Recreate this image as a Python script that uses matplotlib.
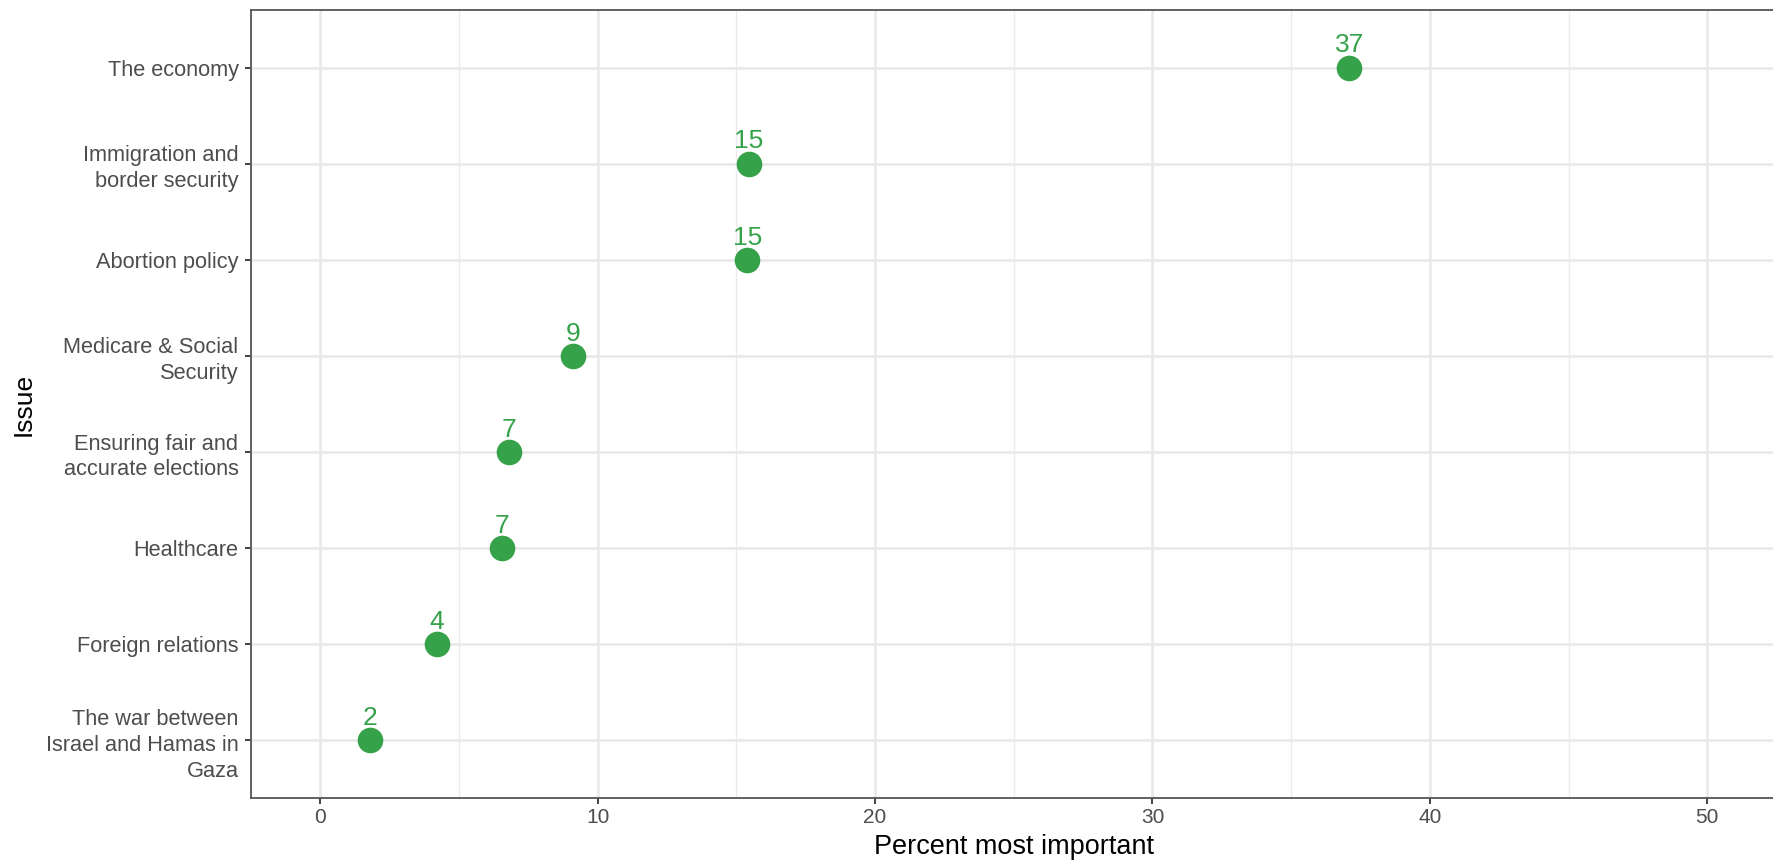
import numpy as np
import matplotlib.pyplot as plt

# data (percent naming each issue most important)
issues = ['The war between\nIsrael and Hamas in\nGaza', 'Foreign relations', 'Healthcare',
          'Ensuring fair and\naccurate elections', 'Medicare & Social\nSecurity',
          'Abortion policy', 'Immigration and\nborder security', 'The economy']
percent = [1.8, 4.2, 6.55, 6.8, 9.1, 15.4, 15.45, 37.1]
labels = ['2', '4', '7', '7', '9', '15', '15', '37']
xticks = [0, 10, 20, 30, 40, 50]

plt.rcParams['font.family'] = ['Liberation Sans', 'DejaVu Sans']
green = '#35a24a'

fig = plt.figure(figsize=(17.73, 8.65), dpi=100)
ax = fig.add_axes([251/1773, 67/865, 1 - 251/1773 + 0.002, 788/865])

ypos = np.arange(1, len(issues) + 1)
ax.scatter(percent, ypos, s=340, color=green, zorder=3, linewidths=0)
for x, y, t in zip(percent, ypos, labels):
    ax.annotate(t, (x, y), xytext=(0, 11), textcoords='offset points',
                ha='center', va='baseline', color=green, fontsize=19, zorder=4)

ax.set_xlim(-2.5, 52.5)
ax.set_ylim(0.4, len(issues) + 0.6)
ax.set_xticks(xticks)
ax.set_xticks([5, 15, 25, 35, 45], minor=True)
ax.set_yticks(ypos)
ax.set_yticklabels(issues, linespacing=1.3)
ax.grid(True, which='major', color='#e8e8e8', linewidth=1.8, zorder=0)
ax.grid(True, which='minor', axis='x', color='#ebebeb', linewidth=1.0, zorder=0)
ax.set_axisbelow(True)
ax.tick_params(which='major', length=4, width=1.3, color='#333333', labelcolor='#4d4d4d')
ax.tick_params(axis='y', labelsize=15.7, pad=5)
ax.tick_params(axis='x', labelsize=15, pad=3)
ax.tick_params(which='minor', length=0)
for s in ['left', 'top', 'bottom']:
    ax.spines[s].set_color('#555555')
    ax.spines[s].set_linewidth(1.3)
ax.spines['right'].set_visible(False)

ax.set_xlabel('Percent most important', fontsize=19.5, color='black')
ax.xaxis.set_label_coords(0.5, -0.046)
ax.set_ylabel('Issue', fontsize=19, color='black')
ax.yaxis.set_label_coords(-0.141, 0.5)

fig.savefig('out.png', dpi=100)
